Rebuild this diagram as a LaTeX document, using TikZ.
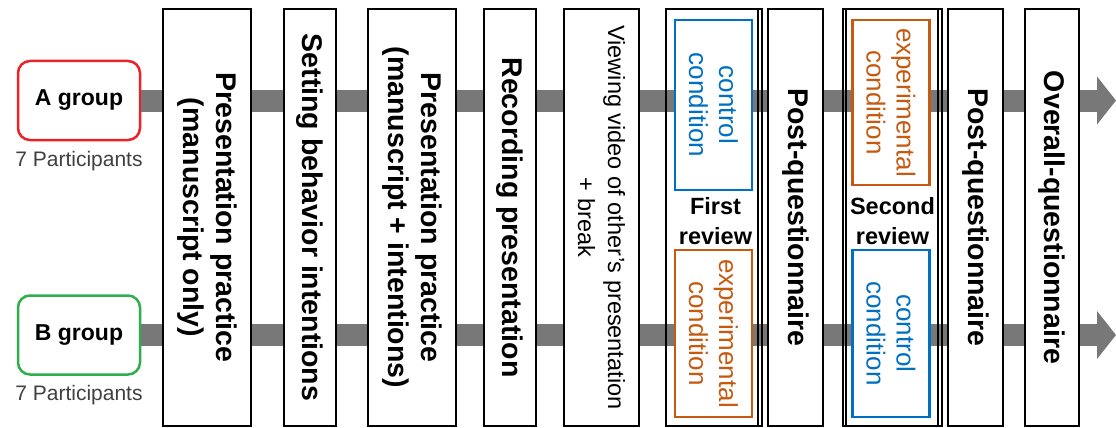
\documentclass[tikz,border=0pt]{standalone}
\usepackage{fontspec}
\setmainfont{Liberation Sans}
\usepackage{tikz}
\usetikzlibrary{arrows.meta}
\usetikzlibrary{positioning}
\usepackage{xcolor}
\definecolor{bandgray}{RGB}{120,120,120}
\definecolor{groupred}{RGB}{235,35,40}
\definecolor{groupgreen}{RGB}{45,175,75}
\definecolor{ctrlblue}{RGB}{0,112,192}
\definecolor{exporange}{RGB}{197,90,17}
\tikzset{
    stepbox/.style={
        draw,
        rectangle,
        fill=white,
        rotate=-90,
        minimum width=417pt,
        inner sep=0pt,
        line width=1.8pt,
        align=center,
        font=\bfseries\fontsize{28.5}{33}\selectfont
    },
    revframe/.style={
        draw,
        rectangle,
        minimum height=417pt,
        inner sep=0pt,
        line width=1.8pt
    },
    condbox/.style={
        draw,
        rectangle,
        fill=white,
        rotate=-90,
        minimum height=77pt,
        inner sep=0pt,
        line width=2.2pt,
        align=center,
        font=\fontsize{26}{30}\selectfont
    },
    groupbox/.style={
        draw,
        rectangle,
        rounded corners=12pt,
        fill=white,
        minimum width=122pt,
        minimum height=79pt,
        line width=2.5pt,
        font=\bfseries\fontsize{23}{28}\selectfont
    },
    band/.style={
        draw=bandgray,
        line width=22pt,
        -{Triangle[length=19pt, width=47pt]}
    }
}

\begin{document}
\begin{tikzpicture}[x=1pt, y=-1pt]
  \useasboundingbox (0,0) rectangle (1116,428);

  % Groups and their sizes
  \node[groupbox, draw=groupred] (agroup) at (79,100.5) {A group};
  \node[groupbox, draw=groupgreen] (bgroup) at (79,335) {B group};
  \node[font=\fontsize{21}{25}\selectfont, text=black!75] (acount) at (79,161) {7 Participants};
  \node[font=\fontsize{21}{25}\selectfont, text=black!75] (bcount) at (79,395) {7 Participants};

  % Flow bands behind the steps
  \coordinate (aend) at (1116,100.5);
  \coordinate (bend) at (1116,335);
  \draw[band] (agroup.east) -- (aend);
  \draw[band] (bgroup.east) -- (bend);

  % Steps of the procedure
  \node[stepbox, minimum height=88pt] (practice1) at (207,217.5) {Presentation practice\\(manuscript only)};
  \node[stepbox, minimum height=52pt] (intentions) at (310,217.5) {Setting behavior intentions};
  \node[stepbox, minimum height=88pt] (practice2) at (412,217.5) {Presentation practice\\(manuscript + intentions)};
  \node[stepbox, minimum height=52pt] (recording) at (510,217.5) {Recording presentation};
  \node[stepbox, minimum height=75pt, font=\fontsize{23.5}{30}\selectfont] (viewing) at (601.5,217.5) {Viewing video of other’s presentation\\+ break};

  % First review
  \node[revframe, minimum width=96pt] (review1) at (714,217.5) {};
  \node[revframe, minimum width=92pt] (review1b) at (712,217.5) {};
  \node[condbox, draw=ctrlblue, text=ctrlblue, minimum width=170pt] (ctrl1) at (713.5,105) {control\\condition};
  \node[condbox, draw=exporange, text=exporange, minimum width=167pt] (exp1) at (713.5,333.5) {experimental\\condition};
  \node[align=center, font=\bfseries\fontsize{23.5}{29.5}\selectfont] (first) at (715.5,221) {First\\review};

  \node[stepbox, minimum height=55pt] (postq1) at (795.5,217.5) {Post-questionnaire};

  % Second review
  \node[revframe, minimum width=99pt] (review2) at (892.5,217.5) {};
  \node[revframe, minimum width=92pt] (review2b) at (892.3,217.5) {};
  \node[condbox, draw=exporange, text=exporange, minimum width=165pt] (exp2) at (891,102.5) {experimental\\condition};
  \node[condbox, draw=ctrlblue, text=ctrlblue, minimum width=167pt] (ctrl2) at (891,333.5) {control\\condition};
  \node[align=center, font=\bfseries\fontsize{23.5}{29.5}\selectfont] (second) at (892.5,221) {Second\\review};

  \node[stepbox, minimum height=55pt] (postq2) at (975.5,217.5) {Post-questionnaire};
  \node[stepbox, minimum height=54pt] (overall) at (1052,217.5) {Overall-questionnaire};
\end{tikzpicture}
\end{document}
